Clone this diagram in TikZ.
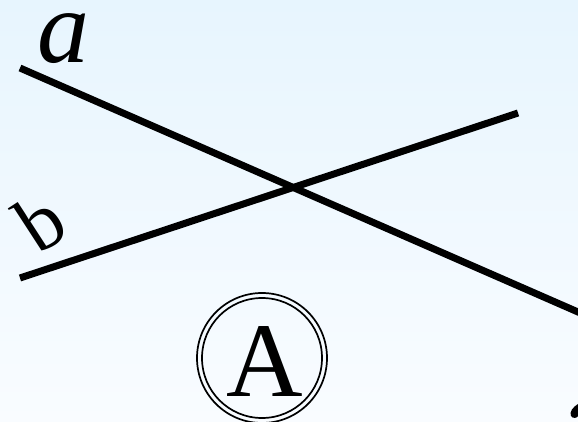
\documentclass[tikz,border=0pt]{standalone}
\usepackage{fontspec}
\setmainfont{Liberation Serif}
\definecolor{bgtop}{RGB}{231,245,254}
\definecolor{bgbot}{RGB}{249,252,255}
\tikzset{
  geoline/.style={line width=7pt, line cap=butt, black},
  ring/.style={circle, draw=black, line width=1.7pt, minimum size=#1},
}
\begin{document}
\begin{tikzpicture}[x=1pt,y=-1pt]
\useasboundingbox (0,0) rectangle (578,422);
\shade[top color=bgtop, bottom color=bgbot] (0,0) rectangle (578,422);
% line a
\coordinate (a1) at (20,68);
\coordinate (a2) at (610,326);
% line b
\coordinate (b1) at (20,278);
\coordinate (b2) at (518,113);
\draw[geoline] (a1) -- (a2);
\draw[geoline] (b1) -- (b2);
\node[anchor=base, inner sep=0pt, text height=0.47em, text depth=0pt, font=\fontsize{104}{106}\selectfont\itshape] (la) at (63,63) {a};
\node[rotate=33] (lb) at (40,222) {\fontsize{80}{82}\selectfont b};
\node[ring=130pt] (outer) at (262,358) {};
\node[ring=120pt] (inner) at (262,358) {};
\node (A) at (265,362) {\fontsize{106}{108}\selectfont A};
% partial mark at the lower right edge
\fill (578,404) .. controls (573,407) and (569,412) .. (571,416)
  .. controls (573,419) and (577,418) .. (578,416) -- cycle;
\end{tikzpicture}
\end{document}
